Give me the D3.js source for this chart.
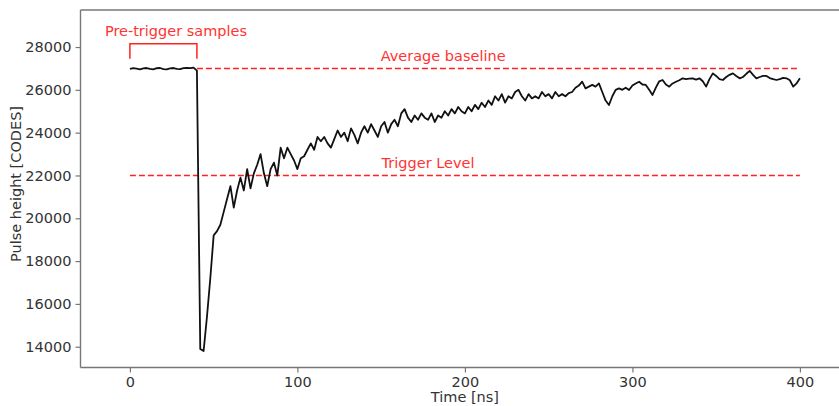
<!DOCTYPE html>
<html lang="en">
<head>
    <meta charset="UTF-8">
    <title>Pulse waveform</title>
    <script src="https://d3js.org/d3.v7.min.js"></script>
    <style>
        body {
            margin: 0;
            background: #fff;
            font-family: 'DejaVu Sans', sans-serif;
        }
        svg {
            display: block;
        }
        .axis path {
            display: none;
        }
        .axis line {
            stroke: #777;
            stroke-width: 1.2px;
        }
        .axis text {
            font-family: 'DejaVu Sans', sans-serif;
            font-size: 14.5px;
            fill: #333;
        }
        .spine {
            stroke: #777;
            stroke-width: 1.4px;
        }
        .note {
            font-family: 'DejaVu Sans', sans-serif;
            font-size: 14.5px;
            fill: #f33;
        }
        .marker {
            stroke: #f22;
            stroke-width: 1.5px;
            fill: none;
        }
    </style>
</head>
<body>

    <svg id="chart"></svg>

    <script>
        // sample time step is 2 ns, starting at 0
        const sampleStep = 2;
        const pulse = [
            26980, 27010, 26990, 26960, 27000, 27020, 26980, 26960, 27010, 27020,
            26970, 26960, 27000, 27020, 26980, 26970, 27010, 27030, 27010, 27040,
            26900, 13900, 13800, 15400, 17200, 19200, 19400, 19700, 20300, 20900,
            21500, 20500, 21300, 21900, 21300, 22300, 21400, 22100, 22500, 23000,
            22100, 21500, 22300, 22600, 22000, 23300, 22800, 23300, 23000, 22700,
            22300, 22800, 22900, 23200, 23500, 23200, 23800, 23600, 23800, 23500,
            23300, 23700, 24100, 23800, 24000, 23600, 24200, 23900, 23500, 24000,
            24300, 24000, 24400, 24100, 23800, 24300, 24500, 24000, 24400, 24600,
            24300, 24900, 25100, 24700, 24500, 24800, 24600, 24900, 24700, 24600,
            24900, 24500, 24800, 24700, 25000, 24800, 25100, 24900, 25200, 25000,
            24900, 25200, 25000, 25300, 25100, 25400, 25200, 25500, 25300, 25700,
            25500, 25800, 25400, 25700, 25600, 25900, 26000, 25700, 25500, 25800,
            25600, 25700, 25600, 25900, 25700, 25800, 25600, 25900, 25700, 25800,
            25700, 25850, 25900, 26100, 26200, 26380, 26070, 26150, 26230, 26150,
            26300, 25900, 25500, 25290, 25700, 26000, 26070, 26000, 26100, 25990,
            26200, 26300, 26380, 26250, 26230, 26000, 25760, 26100, 26400, 26460,
            26250, 26150, 26300, 26380, 26450, 26540, 26500, 26520, 26540, 26480,
            26540, 26400, 26150, 26500, 26770, 26650, 26500, 26460, 26600, 26700,
            26770, 26650, 26540, 26600, 26750, 26890, 26700, 26540, 26600, 26650,
            26650, 26550, 26500, 26460, 26500, 26560, 26540, 26450, 26150, 26300,
            26540
        ];

        const xTicks = [0, 100, 200, 300, 400];
        const yTicks = [14000, 16000, 18000, 20000, 22000, 24000, 26000, 28000];

        // reference levels
        const baselineLevel = 27000;
        const baselineSpan = [40, 400];
        const triggerLevel = 22000;
        const triggerSpan = [0, 400];
        const preTrigger = [0, 40];
        const bracketLevels = [27450, 28150];

        const labels = [
            { text: 'Pre-trigger samples', t: 27.5, v: 28750 },
            { text: 'Average baseline', t: 187, v: 27580 },
            { text: 'Trigger Level', t: 178, v: 22600 }
        ];

        const width = 839, height = 406;
        const plotLeft = 80.5, plotTop = 10, plotBottom = 367.5;

        const svg = d3.select('#chart')
            .attr('width', width)
            .attr('height', height);

        const x = d3.scaleLinear()
            .domain([-29.5, 430])
            .range([plotLeft, plotLeft + 459.5 * 1.675]);

        const y = d3.scaleLinear()
            .domain([13030, 29730])
            .range([plotBottom, plotTop]);

        // axes
        svg.append('g')
            .attr('class', 'axis')
            .attr('transform', `translate(0,${plotBottom})`)
            .call(d3.axisBottom(x).tickValues(xTicks).tickSize(5).tickPadding(4));

        svg.append('g')
            .attr('class', 'axis')
            .attr('transform', `translate(${plotLeft},0)`)
            .call(d3.axisLeft(y).tickValues(yTicks).tickFormat(d3.format('d')).tickSize(5).tickPadding(4));

        // spines
        svg.append('line').attr('class', 'spine')
            .attr('x1', plotLeft).attr('x2', plotLeft)
            .attr('y1', plotTop).attr('y2', plotBottom);
        svg.append('line').attr('class', 'spine')
            .attr('x1', plotLeft).attr('x2', x.range()[1])
            .attr('y1', plotBottom).attr('y2', plotBottom);
        svg.append('line').attr('class', 'spine')
            .attr('x1', plotLeft).attr('x2', x.range()[1])
            .attr('y1', plotTop).attr('y2', plotTop);

        // dashed levels
        svg.append('line').attr('class', 'marker')
            .attr('stroke-dasharray', '6,3')
            .attr('x1', x(baselineSpan[0])).attr('x2', x(baselineSpan[1]))
            .attr('y1', y(baselineLevel)).attr('y2', y(baselineLevel));

        svg.append('line').attr('class', 'marker')
            .attr('stroke-dasharray', '6,3')
            .attr('x1', x(triggerSpan[0])).attr('x2', x(triggerSpan[1]))
            .attr('y1', y(triggerLevel)).attr('y2', y(triggerLevel));

        // pre-trigger bracket
        svg.append('path').attr('class', 'marker')
            .attr('d', d3.line()([
                [x(preTrigger[0]), y(bracketLevels[0])],
                [x(preTrigger[0]), y(bracketLevels[1])],
                [x(preTrigger[1]), y(bracketLevels[1])],
                [x(preTrigger[1]), y(bracketLevels[0])]
            ]));

        // waveform
        const line = d3.line()
            .x((d, i) => x(i * sampleStep))
            .y(d => y(d));

        svg.append('path')
            .datum(pulse)
            .attr('fill', 'none')
            .attr('stroke', '#111')
            .attr('stroke-width', 1.8)
            .attr('stroke-linejoin', 'round')
            .attr('d', line);

        svg.selectAll('.note')
            .data(labels)
            .enter().append('text')
            .attr('class', 'note')
            .attr('x', d => x(d.t))
            .attr('y', d => y(d.v))
            .attr('text-anchor', 'middle')
            .attr('dominant-baseline', 'central')
            .text(d => d.text);

        // axis titles
        svg.append('text')
            .attr('x', x(200))
            .attr('y', 402)
            .attr('text-anchor', 'middle')
            .style('font-size', '14.5px')
            .style('fill', '#333')
            .text('Time [ns]');

        svg.append('text')
            .attr('transform', 'translate(21,184) rotate(-90)')
            .attr('text-anchor', 'middle')
            .style('font-size', '14.5px')
            .style('fill', '#333')
            .text('Pulse height [CODES]');
    </script>

</body>
</html>
